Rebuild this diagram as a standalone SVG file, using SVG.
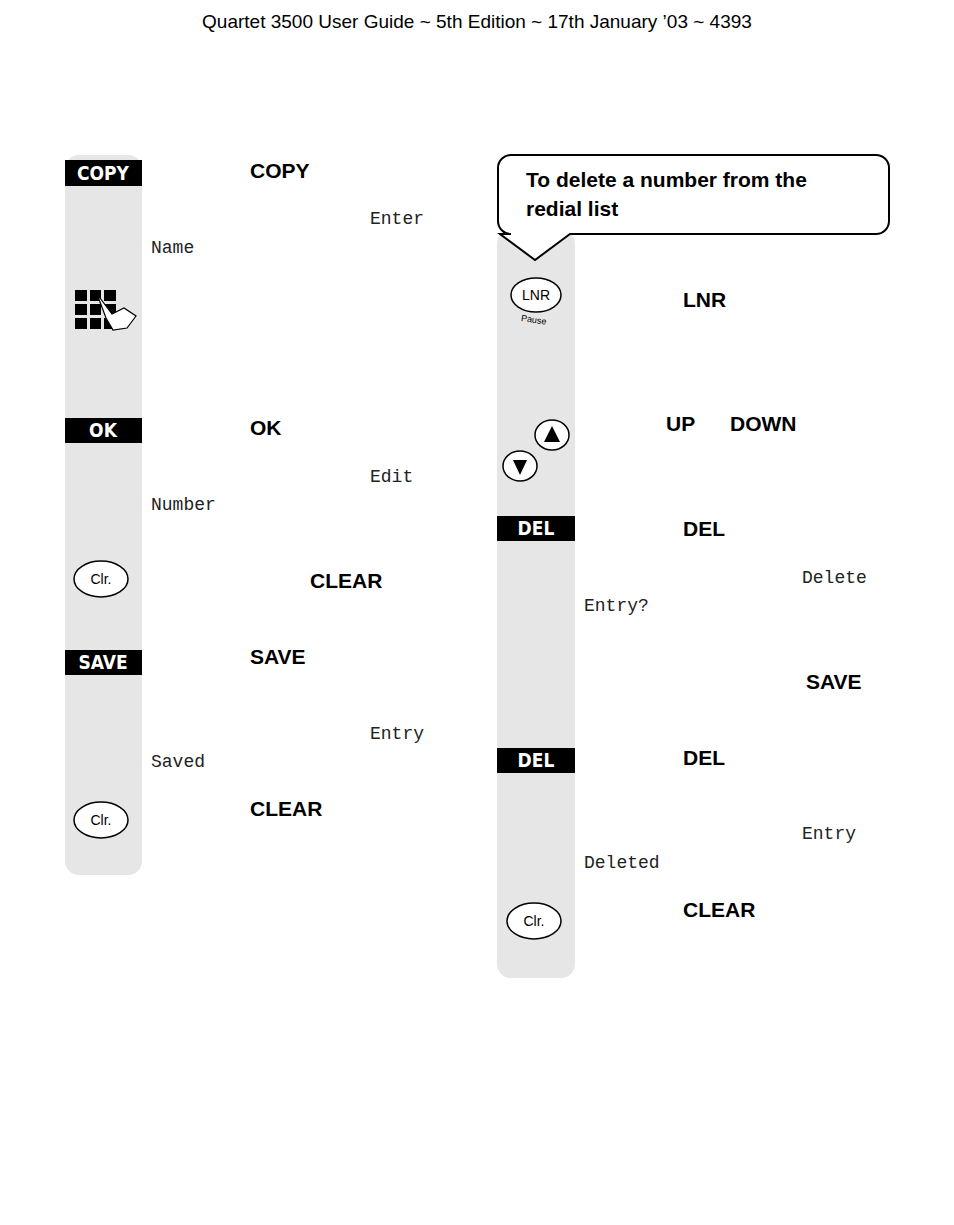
<svg xmlns="http://www.w3.org/2000/svg" width="954" height="1225" viewBox="0 0 954 1225">
<style>
.bar{fill:#e6e6e6}
.key{fill:#000}
.kt{fill:#fff;font:bold 19px "DejaVu Sans Condensed","Liberation Sans",sans-serif;text-anchor:middle}
.b{font:bold 21px "Liberation Sans",sans-serif;fill:#000}
.lcd{font:18px "Liberation Mono",monospace;fill:#222}
.btn{fill:#fff;stroke:#000;stroke-width:1.5}
.bt{font:14px "Liberation Sans",sans-serif;text-anchor:middle}
</style>
<rect width="954" height="1225" fill="#fff"/>
<text x="477" y="28" text-anchor="middle" font-family="Liberation Sans, sans-serif" font-size="19">Quartet 3500 User Guide ~ 5th Edition ~ 17th January ’03 ~ 4393</text>
<rect class="bar" x="65" y="155" width="77" height="720" rx="14"/>
<rect class="bar" x="497" y="230" width="78" height="748" rx="14"/>
<path d="M512 155 H876 A13 13 0 0 1 889 168 V221 A13 13 0 0 1 876 234 H570 L535 260 L500 234 H511 A13 13 0 0 1 498 221 V168 A13 13 0 0 1 511 155 Z" fill="#fff" stroke="#000" stroke-width="2"/>
<text class="b" x="526" y="187">To delete a number from the</text>
<text class="b" x="526" y="216">redial list</text>
<g id="left">
<rect class="key" x="65" y="160" width="77" height="26"/><text class="kt" x="103" y="180">COPY</text>
<text class="b" x="250" y="178">COPY</text>
<text class="lcd" x="370" y="224">Enter</text><text class="lcd" x="151" y="253">Name</text>
<g fill="#000"><rect x="75" y="290" width="12" height="11"/><rect x="90" y="290" width="11" height="11"/><rect x="104" y="290" width="12" height="11"/><rect x="75" y="304" width="12" height="11"/><rect x="90" y="304" width="11" height="11"/><rect x="104" y="304" width="12" height="11"/><rect x="75" y="318" width="12" height="11"/><rect x="90" y="318" width="11" height="11"/><rect x="104" y="318" width="12" height="11"/></g>
<path d="M97 294 L112 314 L124 308 L136 316 L127 328 L113 330 L106 318 Z" fill="#fff" stroke="#000" stroke-width="1.2"/>
<rect class="key" x="65" y="418" width="77" height="25"/><text class="kt" x="103" y="437">OK</text>
<text class="b" x="250" y="435">OK</text>
<text class="lcd" x="370" y="482">Edit</text><text class="lcd" x="151" y="510">Number</text>
<ellipse class="btn" cx="101" cy="579" rx="27" ry="18"/><text class="bt" x="101" y="584">Clr.</text>
<text class="b" x="310" y="588">CLEAR</text>
<rect class="key" x="65" y="650" width="77" height="25"/><text class="kt" x="103" y="669">SAVE</text>
<text class="b" x="250" y="664">SAVE</text>
<text class="lcd" x="370" y="739">Entry</text><text class="lcd" x="151" y="767">Saved</text>
<ellipse class="btn" cx="101" cy="820" rx="27" ry="18"/><text class="bt" x="101" y="825">Clr.</text>
<text class="b" x="250" y="816">CLEAR</text>
</g>
<g id="right">
<ellipse class="btn" cx="536" cy="295" rx="25" ry="17"/><text class="bt" x="536" y="300">LNR</text>
<text x="521" y="323" font-family="Liberation Sans, sans-serif" font-size="9" transform="rotate(8 535 320)">Pause</text>
<text class="b" x="683" y="307">LNR</text>
<ellipse class="btn" cx="552" cy="435" rx="17" ry="15"/>
<path d="M552 426 L560 442 L544 442 Z"/>
<ellipse class="btn" cx="520" cy="466" rx="17" ry="15"/>
<path d="M513 460 L527 460 L520 475 Z"/>
<text class="b" x="666" y="431">UP</text><text class="b" x="730" y="431">DOWN</text>
<rect class="key" x="497" y="516" width="78" height="25"/><text class="kt" x="536" y="535">DEL</text>
<text class="b" x="683" y="536">DEL</text>
<text class="lcd" x="802" y="583">Delete</text><text class="lcd" x="584" y="611">Entry?</text>
<text class="b" x="806" y="689">SAVE</text>
<rect class="key" x="497" y="748" width="78" height="25"/><text class="kt" x="536" y="767">DEL</text>
<text class="b" x="683" y="765">DEL</text>
<text class="lcd" x="802" y="839">Entry</text><text class="lcd" x="584" y="868">Deleted</text>
<ellipse class="btn" cx="534" cy="921" rx="27" ry="18"/><text class="bt" x="534" y="926">Clr.</text>
<text class="b" x="683" y="917">CLEAR</text>
</g>
</svg>
